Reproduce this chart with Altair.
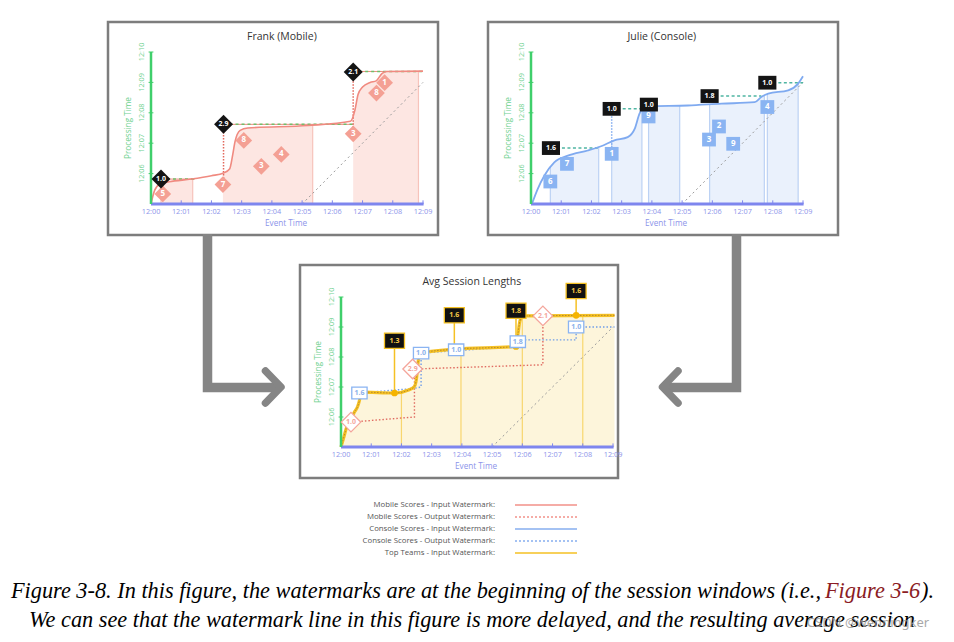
import altair as alt
import pandas as pd

# ------------------------------------------------------------------
# Axis ticks (minutes after 12:00)
x_ticks = list(range(10))
x_tick_labels = ["12:00", "12:01", "12:02", "12:03", "12:04",
                 "12:05", "12:06", "12:07", "12:08", "12:09"]
y_ticks = [6, 7, 8, 9, 10]
y_tick_labels = ["12:06", "12:07", "12:08", "12:09", "12:10"]
ideal_x = [5.0, 9.0]
ideal_y = [5.0, 9.0]

# ------------------------------------------------------------------
# Frank (Mobile)
frank_wm_x = [0.0, 0.12, 0.3, 0.6, 1.33, 2.0, 2.4, 2.6, 2.7, 2.78, 2.95, 3.2,
              5.2, 6.6, 6.75, 6.85, 7.0, 7.25, 7.45, 7.65, 7.8, 9.0]
frank_wm_y = [5.0, 5.45, 5.66, 5.73, 5.82, 5.93, 6.02, 6.15, 6.6, 7.05, 7.42, 7.5,
              7.58, 7.72, 8.1, 8.6, 8.85, 9.0, 9.05, 9.3, 9.36, 9.37]
frank_gap_start = [0.0, 1.38, 5.35, 8.85]
frank_gap_end = [0.33, 2.38, 6.69, 9.0]
frank_win_x = [0.33, 1.38, 5.35, 8.85]
frank_win_top = [5.68, 5.82, 7.58, 9.36]
frank_out_x1 = [0.33, 2.4, 6.69]
frank_out_x2 = [1.45, 6.69, 9.0]
frank_out_y = [5.82, 7.62, 9.36]
frank_vdot_x = [2.4, 6.69]
frank_vdot_y1 = [5.64, 7.31]
frank_vdot_y2 = [7.62, 9.34]
frank_score_x = [0.39, 2.38, 3.07, 3.65, 4.31, 6.69, 7.46, 7.73]
frank_score_y = [5.33, 5.64, 7.09, 6.24, 6.63, 7.31, 8.65, 8.99]
frank_score_lbl = ["5", "7", "8", "3", "4", "3", "8", "1"]
frank_avg_x = [0.33, 2.4, 6.69]
frank_avg_y = [5.82, 7.62, 9.34]
frank_avg_lbl = ["1.0", "2.9", "2.1"]

# ------------------------------------------------------------------
# Julie (Console)
julie_wm_x = [0.03, 0.22, 0.44, 0.77, 1.22, 1.88, 2.32, 2.76, 3.2, 3.43, 3.59, 3.7,
              3.87, 5.19, 6.3, 7.4, 7.62, 7.85, 8.51, 8.84, 9.0]
julie_wm_y = [5.0, 5.49, 5.93, 6.37, 6.59, 6.76, 6.9, 7.09, 7.2, 7.47, 7.97, 8.15,
              8.21, 8.24, 8.3, 8.35, 8.52, 8.63, 8.74, 8.96, 9.2]
julie_gap_start = [0.0, 2.24, 3.67, 4.92, 7.72, 8.84]
julie_gap_end = [0.64, 2.67, 3.89, 5.91, 7.82, 9.0]
julie_win_x = [0.64, 2.24, 2.67, 3.67, 3.89, 4.92, 5.91, 7.72, 7.82, 8.84]
julie_win_top = [6.25, 6.88, 7.08, 8.12, 8.21, 8.23, 8.28, 8.55, 8.62, 8.96]
julie_out_x1 = [0.66, 2.67, 5.91, 7.82]
julie_out_x2 = [2.21, 3.65, 7.62, 9.0]
julie_out_y = [6.84, 8.13, 8.55, 8.99]
julie_vdot_x = [2.67]
julie_vdot_y1 = [6.65]
julie_vdot_y2 = [8.13]
julie_score_x = [0.64, 1.19, 2.67, 3.89, 5.89, 6.22, 6.69, 7.82]
julie_score_y = [5.74, 6.32, 6.65, 7.88, 7.12, 7.55, 6.98, 8.19]
julie_score_lbl = ["6", "7", "1", "9", "3", "2", "9", "4"]
julie_avg_x = [0.66, 2.67, 3.9, 5.91, 7.82]
julie_avg_y = [6.84, 8.13, 8.27, 8.55, 8.99]
julie_avg_lbl = ["1.6", "1.0", "1.0", "1.8", "1.0"]

# ------------------------------------------------------------------
# Avg Session Lengths (Top Teams)
top_wm_x = [0.0, 0.1, 0.17, 0.3, 0.44, 0.55, 0.61, 0.66, 1.77, 2.26, 2.43, 2.5,
            2.56, 2.62, 3.75, 5.79, 5.86, 5.92, 6.02, 9.05]
top_wm_y = [5.0, 5.35, 5.61, 5.85, 6.16, 6.35, 6.55, 6.83, 6.80, 6.91, 7.02, 7.3,
            7.9, 8.13, 8.26, 8.35, 8.8, 9.2, 9.37, 9.39]
mobile_out_x = [0.33, 2.43, 2.43, 6.68, 6.68, 9.05]
mobile_out_y = [5.83, 6.0, 7.6, 7.74, 9.37, 9.39]
console_out_x = [0.61, 2.4, 2.65, 2.65, 5.85, 5.85, 7.78, 7.78, 9.05]
console_out_y = [6.8, 6.95, 7.0, 8.13, 8.35, 8.57, 8.57, 9.0, 9.0]
top_win_x = [2.0, 3.97, 6.0, 8.0]
top_win_top = [6.85, 8.27, 9.37, 9.39]
top_avg_x = [1.77, 3.75, 5.79, 7.78]
top_avg_dot_y = [6.80, 8.26, 8.35, 9.39]
top_avg_lbl_y = [8.54, 9.39, 9.54, 10.2]
top_avg_lbl = ["1.3", "1.6", "1.8", "1.6"]
top_console_x = [0.61, 2.65, 3.81, 5.85, 7.78]
top_console_y = [6.80, 8.13, 8.24, 8.51, 9.0]
top_console_lbl = ["1.6", "1.0", "1.0", "1.8", "1.0"]
top_mobile_x = [0.33, 2.37, 6.68]
top_mobile_y = [5.83, 7.6, 9.37]
top_mobile_lbl = ["1.0", "2.9", "2.1"]

# ------------------------------------------------------------------
legend_labels = ["Mobile Scores - Input Watermark:",
                 "Mobile Scores - Output Watermark:",
                 "Console Scores - Input Watermark:",
                 "Console Scores - Output Watermark:",
                 "Top Teams - Input Watermark:"]

caption_1a = "Figure 3-8. In this figure, the watermarks are at the beginning of the session windows (i.e.,"
caption_1b = "Figure 3-6"
caption_1c = ")."
caption_2 = "We can see that the watermark line in this figure is more delayed, and the resulting average session"
caption_3 = "lengths are different."
watermark_text = "CSDN @wenningker"

# ------------------------------------------------------------------
# Layout (page pixels)
OFF = 8
W, H = 938, 626
PANEL_PX = {"frank": (151, 423, 204, 52),
            "julie": (531, 803, 204, 52),
            "avg": (341, 613, 447, 297)}

RED = "#f08a80"
RED_L = "#f7c3bb"
PINK = "#f4a094"
BLUE = "#7faaf0"
BLUE_L = "#bcd2f4"
BLUE_SQ = "#8ab4f2"
YEL = "#f5c124"
XC = "#7e86ee"
XL = "#8d94ea"
YC = "#3fcf6b"
YL = "#6fd18f"
FONT = "Open Sans"


def xs(p):
    x0, x9, _, _ = PANEL_PX[p]
    return alt.Scale(domain=[0, 9], range=[x0 - OFF, x9 - OFF], nice=False, zero=False)


def ys(p):
    _, _, y5, y10 = PANEL_PX[p]
    return alt.Scale(domain=[5, 10], range=[y5 - OFF, y10 - OFF], nice=False, zero=False)


def pos(p):
    return dict(x=alt.X("x:Q", scale=xs(p), axis=None),
                y=alt.Y("y:Q", scale=ys(p), axis=None))


def line(p, X, Y, **mk):
    df = pd.DataFrame({"x": X, "y": Y, "i": list(range(len(X)))})
    return alt.Chart(df).mark_line(**mk).encode(**pos(p), order="i:Q")


def rules(p, X, X2, Y, Y2, **mk):
    df = pd.DataFrame({"x": X, "x2": X2, "y": Y, "y2": Y2})
    return alt.Chart(df).mark_rule(**mk).encode(**pos(p), x2="x2:Q", y2="y2:Q")


def rects(p, X, X2, Y, Y2, **mk):
    df = pd.DataFrame({"x": X, "x2": X2, "y": Y, "y2": Y2})
    return alt.Chart(df).mark_rect(**mk).encode(**pos(p), x2="x2:Q", y2="y2:Q")


def area(p, X, Y, **mk):
    df = pd.DataFrame({"x": X, "y": Y, "y0": 5.0})
    return alt.Chart(df).mark_area(**mk).encode(**pos(p), y2="y0:Q")


def points(p, X, Y, **mk):
    df = pd.DataFrame({"x": X, "y": Y})
    return alt.Chart(df).mark_point(**mk).encode(**pos(p))


def texts(p, X, Y, T, **mk):
    df = pd.DataFrame({"x": X, "y": Y, "t": T})
    mk.setdefault("font", FONT)
    return alt.Chart(df).mark_text(**mk).encode(**pos(p), text="t:N")


def axes(p, title):
    return [
        rules(p, [0], [9.02], [5], [5], color=XC, strokeWidth=3),
        rules(p, x_ticks, x_ticks, 5, 5.12, color=XC, strokeWidth=1),
        texts(p, x_ticks, 4.73, x_tick_labels, fontSize=7.3, color=XL),
        rules(p, [0], [0], [5], [10], color=YC, strokeWidth=2.5),
        rules(p, -0.08, 0.08, y_ticks, y_ticks, color=YC, strokeWidth=1),
        texts(p, -0.3, y_ticks, y_tick_labels, angle=270, fontSize=7.3, color=YL),
        texts(p, [4.47], [4.33], ["Event Time"], fontSize=8.2, color=XL),
        texts(p, [-0.74], [7.5], ["Processing Time"], angle=270, fontSize=8.2, color=YL),
        texts(p, [4.33], [10.5], [title], fontSize=10.5, color="#333333"),
    ]


one = pd.DataFrame({"k": [0]})
layers = []

# frames
for (l, t, r, b) in [(108, 22, 438, 235), (488, 22, 838, 235), (300, 265, 618, 478)]:
    layers.append(alt.Chart(one).mark_rect(fill="white", stroke="#7d7d7d", strokeWidth=2.5).encode(
        x=alt.value(l - OFF), x2=alt.value(r - OFF), y=alt.value(t - OFF), y2=alt.value(b - OFF)))

# arrows (page coordinates)
PXS = alt.Scale(domain=[0, 954], range=[-OFF, 954 - OFF], nice=False, zero=False)
PYS = alt.Scale(domain=[0, 642], range=[-OFF, 642 - OFF], nice=False, zero=False)


def page_line(X, Y, **mk):
    df = pd.DataFrame({"x": X, "y": Y, "i": list(range(len(X)))})
    return alt.Chart(df).mark_line(**mk).encode(
        x=alt.X("x:Q", scale=PXS, axis=None), y=alt.Y("y:Q", scale=PYS, axis=None), order="i:Q")


AG = "#858585"
layers += [
    page_line([207.5, 207.5, 277], [234, 387.5, 387.5], color=AG, strokeWidth=9.5, strokeJoin="miter"),
    page_line([265.5, 281, 265.5], [371, 387, 403], color=AG, strokeWidth=7.5, strokeCap="round", strokeJoin="round"),
    page_line([736.5, 736.5, 667], [234, 387.5, 387.5], color=AG, strokeWidth=9.5, strokeJoin="miter"),
    page_line([678, 662.5, 678], [371, 387, 403], color=AG, strokeWidth=7.5, strokeCap="round", strokeJoin="round"),
]

# ---------------- Frank ----------------
p = "frank"
layers += [
    area(p, frank_wm_x, frank_wm_y, color="#fde6e2", interpolate="monotone"),
    rects(p, frank_gap_start, frank_gap_end, 5, 9.5, color="white"),
    rules(p, frank_win_x, frank_win_x, 5, frank_win_top, color=RED_L, strokeWidth=1.2),
    line(p, ideal_x, ideal_y, color="#9a9a9a", strokeDash=[2, 3], strokeWidth=1),
    rules(p, frank_out_x1, frank_out_x2, frank_out_y, frank_out_y, color=RED, strokeWidth=1),
    rules(p, frank_out_x1, frank_out_x2, frank_out_y, frank_out_y, color="#6fbf6a", strokeDash=[3, 3], strokeWidth=1.5),
    rules(p, frank_vdot_x, frank_vdot_x, frank_vdot_y1, frank_vdot_y2, color="#e2685c", strokeDash=[1.5, 1.5], strokeWidth=1.5),
    line(p, frank_wm_x, frank_wm_y, color=RED, strokeWidth=1.6, interpolate="monotone"),
]
layers += axes(p, "Frank (Mobile)")
layers += [
    points(p, frank_score_x, frank_score_y, shape="diamond", filled=True, color=PINK, size=280, opacity=1),
    texts(p, frank_score_x, frank_score_y, frank_score_lbl, fontSize=8, fontWeight="bold", color="white"),
    points(p, frank_avg_x, frank_avg_y, shape="diamond", filled=True, color="#141414", size=360, opacity=1),
    texts(p, frank_avg_x, frank_avg_y, frank_avg_lbl, fontSize=7, fontWeight="bold", color="white"),
]

# ---------------- Julie ----------------
RECT_PATH = "M-1.25,-0.95L1.25,-0.95L1.25,0.95L-1.25,0.95Z"
p = "julie"
layers += [
    area(p, julie_wm_x, julie_wm_y, color="#eaf1fc", interpolate="monotone"),
    rects(p, julie_gap_start, julie_gap_end, 5, 9.5, color="white"),
    rules(p, julie_win_x, julie_win_x, 5, julie_win_top, color=BLUE_L, strokeWidth=1.2),
    line(p, ideal_x, ideal_y, color="#9a9a9a", strokeDash=[2, 3], strokeWidth=1),
    rules(p, julie_out_x1, julie_out_x2, julie_out_y, julie_out_y, color="#4fb5a2", strokeDash=[3, 2.5], strokeWidth=1.5),
    rules(p, julie_vdot_x, julie_vdot_x, julie_vdot_y1, julie_vdot_y2, color=BLUE, strokeDash=[1.5, 1.5], strokeWidth=1.5),
    line(p, julie_wm_x, julie_wm_y, color=BLUE, strokeWidth=1.8, interpolate="monotone"),
]
layers += axes(p, "Julie (Console)")
layers += [
    points(p, julie_score_x, julie_score_y, shape="square", filled=True, color=BLUE_SQ, size=190, opacity=1),
    texts(p, julie_score_x, julie_score_y, julie_score_lbl, fontSize=8, fontWeight="bold", color="white"),
    points(p, julie_avg_x, julie_avg_y, shape=RECT_PATH, filled=True, color="#141414", size=210, opacity=1),
    texts(p, julie_avg_x, julie_avg_y, julie_avg_lbl, fontSize=7, fontWeight="bold", color="white"),
]

# ---------------- Avg ----------------
p = "avg"
layers += [
    area(p, top_wm_x, top_wm_y, color="#fdf5db", interpolate="monotone"),
    rules(p, top_win_x, top_win_x, 5, top_win_top, color="#f8d66e", strokeWidth=1.2),
    line(p, ideal_x, ideal_y, color="#9a9a9a", strokeDash=[2, 3], strokeWidth=1),
    line(p, mobile_out_x, mobile_out_y, color="#e06a60", strokeDash=[1.5, 2], strokeWidth=1.4),
    line(p, console_out_x, console_out_y, color="#6f9de8", strokeDash=[1.5, 2], strokeWidth=1.4),
    line(p, top_wm_x, top_wm_y, color=YEL, strokeWidth=3.2, interpolate="monotone"),
    line(p, top_wm_x, top_wm_y, color="#b88a2a", strokeWidth=1, strokeDash=[1.5, 1.5], interpolate="monotone"),
]
layers += axes(p, "Avg Session Lengths")
layers += [
    rules(p, top_avg_x, top_avg_x, top_avg_dot_y, top_avg_lbl_y, color=YEL, strokeWidth=1.5),
    points(p, top_avg_x, top_avg_dot_y, shape="circle", filled=True, color="#f5b400", size=45, opacity=1),
    points(p, top_console_x, top_console_y, shape=RECT_PATH, filled=True, fill="white", stroke=BLUE_SQ,
           strokeWidth=1.3, size=150, opacity=1),
    texts(p, top_console_x, top_console_y, top_console_lbl, fontSize=7, fontWeight="bold", color="#8ab0ea"),
    points(p, top_mobile_x, top_mobile_y, shape="diamond", filled=True, fill="white", stroke="#f4a59b",
           strokeWidth=1.3, size=380, opacity=1),
    texts(p, top_mobile_x, top_mobile_y, top_mobile_lbl, fontSize=7, fontWeight="bold", color="#f4a59b"),
    points(p, top_avg_x, top_avg_lbl_y, shape=RECT_PATH, filled=True, fill="#111111", stroke=YEL,
           strokeWidth=1.3, size=256, opacity=1),
    texts(p, top_avg_x, top_avg_lbl_y, top_avg_lbl, fontSize=7, fontWeight="bold", color="#f7c948"),
]

# ---------------- Legend ----------------
leg_df = pd.DataFrame({"label": legend_labels})
leg_y = alt.Y("label:N", scale=alt.Scale(type="point", domain=legend_labels,
                                         range=[505 - OFF, 553 - OFF], padding=0), axis=None)
layers += [
    alt.Chart(leg_df).mark_text(align="right", fontSize=7.8, color="#555555", font=FONT).encode(
        x=alt.value(495 - OFF), y=leg_y, text="label:N"),
    alt.Chart(leg_df).mark_rule().encode(
        x=alt.value(515 - OFF), x2=alt.value(577 - OFF), y=leg_y,
        color=alt.Color("label:N", scale=alt.Scale(domain=legend_labels,
                        range=["#f29189", "#f29189", "#86aef0", "#86aef0", YEL]), legend=None),
        strokeDash=alt.StrokeDash("label:N", scale=alt.Scale(domain=legend_labels,
                                  range=[[1, 0], [2, 2], [1, 0], [2, 2], [1, 0]]), legend=None),
        strokeWidth=alt.StrokeWidth("label:N", scale=alt.Scale(domain=legend_labels,
                                    range=[1.3, 1.3, 1.8, 1.5, 2.6]), legend=None)),
]

# ---------------- Caption ----------------
CF = "Liberation Serif"
CS = 22.3
layers += [
    alt.Chart(one).mark_text(text=caption_1a, align="right", baseline="middle", font=CF, fontStyle="italic",
                             fontSize=CS, color="#000000").encode(x=alt.value(821 - OFF), y=alt.value(591 - OFF)),
    alt.Chart(one).mark_text(text=caption_1b, align="left", baseline="middle", font=CF, fontStyle="italic",
                             fontSize=CS, color="#8b1c24").encode(x=alt.value(825 - OFF), y=alt.value(591 - OFF)),
    alt.Chart(one).mark_text(text=caption_1c, align="left", baseline="middle", font=CF, fontStyle="italic",
                             fontSize=CS, color="#000000").encode(x=alt.value(921 - OFF), y=alt.value(591 - OFF)),
    alt.Chart(one).mark_text(text=caption_2, align="center", baseline="middle", font=CF, fontStyle="italic",
                             fontSize=CS, color="#000000").encode(x=alt.value(472 - OFF), y=alt.value(620 - OFF)),
    alt.Chart(one).mark_text(text=caption_3, align="center", baseline="middle", font=CF, fontStyle="italic",
                             fontSize=CS, color="#000000").encode(x=alt.value(472 - OFF), y=alt.value(649 - OFF)),
    alt.Chart(one).mark_text(text=watermark_text, align="center", baseline="middle", font="Noto Sans",
                             fontSize=13, color="#9a9a9a", opacity=0.85).encode(x=alt.value(868 - OFF), y=alt.value(623 - OFF)),
]

chart = alt.layer(*layers).resolve_scale(x="independent", y="independent").properties(
    width=W, height=H, autosize=alt.AutoSizeParams(type="none"), padding=0, background="white"
).configure_view(stroke=None)

chart.save("out.html", embed_options={"renderer": "svg", "actions": False})
